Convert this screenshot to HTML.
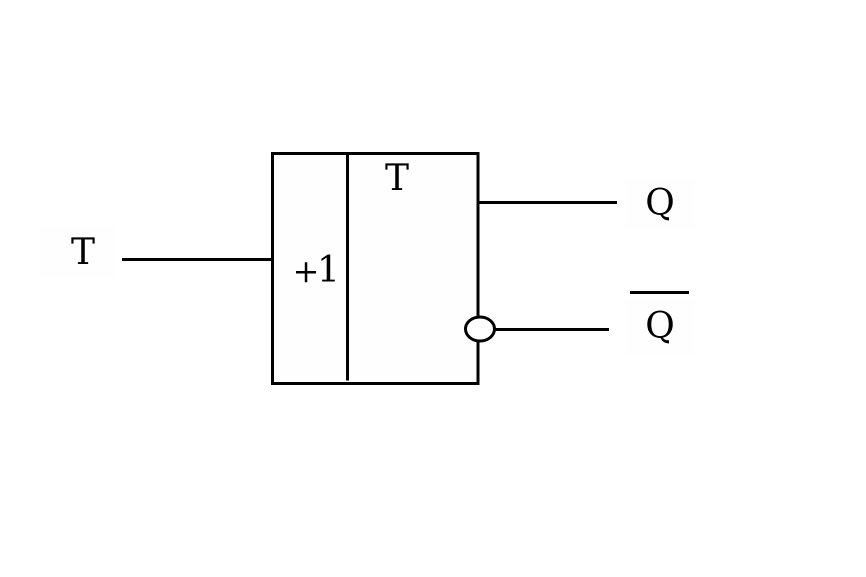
<!DOCTYPE html>
<html>
<head>
<meta charset="utf-8">
<style>
html,body{margin:0;padding:0;background:#fff;}
svg{display:block;}
text{font-family:"DejaVu Serif","Liberation Serif",serif;fill:#000;}
</style>
</head>
<body>
<svg width="866" height="577" viewBox="0 0 866 577" xmlns="http://www.w3.org/2000/svg">
<rect width="866" height="577" fill="#fff"/>
<rect x="40" y="228" width="75" height="50" fill="#fefefe"/>
<rect x="625" y="178" width="70" height="52" fill="#fefefe"/>
<rect x="625" y="300" width="70" height="55" fill="#fefefe"/>
<rect x="273" y="154" width="205" height="229" fill="#fefefe"/>
<g stroke="#000" stroke-width="3" fill="none">
<rect x="272.500" y="153.500" width="205.500" height="230"/>
<line x1="347.500" y1="154" x2="347.500" y2="380.500"/>
<line x1="122" y1="259.500" x2="272" y2="259.500"/>
<line x1="478" y1="202.500" x2="617" y2="202.500"/>
<line x1="494" y1="329.500" x2="609" y2="329.500"/>
<line x1="630" y1="292.500" x2="689" y2="292.500"/>
<ellipse cx="480" cy="329" rx="14.500" ry="12" fill="#fff"/>
</g>
<text x="83" y="264" font-size="36" text-anchor="middle">T</text>
<text x="397" y="190" font-size="36" text-anchor="middle">T</text>
<text x="306" y="282" font-size="32" text-anchor="middle">+</text>
<text x="328.500" y="282" font-size="36" text-anchor="middle">1</text>
<text x="660" y="215" font-size="36" text-anchor="middle">Q</text>
<text x="660" y="338" font-size="36" text-anchor="middle">Q</text>
</svg>
</body>
</html>
